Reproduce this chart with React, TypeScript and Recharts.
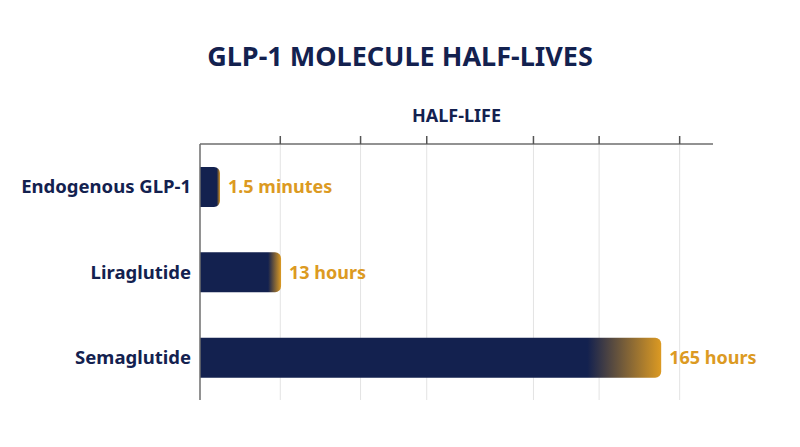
import React from "react";
import { BarChart, Bar, XAxis, YAxis, CartesianGrid, LabelList } from "recharts";

const categories = ["Endogenous GLP-1", "Liraglutide", "Semaglutide"];
// bar lengths as drawn (relative visual scale 0–100)
const barLengths = [3.9, 15.8, 89.9];
const valueLabels = ["1.5 minutes", "13 hours", "165 hours"];
const gridTicks = [15.65, 31.3, 44.2, 65, 77.8, 93.5];
const DOMAIN: [number, number] = [0, 100];

const data = categories.map((name, i) => ({
  name,
  value: barLengths[i],
  label: valueLabels[i],
}));

const NAVY = "#13214f";
const GOLD = "#dc9a22";
const FONT = "'Noto Sans', sans-serif";

const EmptyTick = () => <g />;

const gridGen = (props: any) => {
  const xAxis = props && props.xAxis;
  const s = xAxis && xAxis.scale;
  return gridTicks.map((t) => {
    if (typeof s === "function") return s(t);
    if (s && typeof s.map === "function") return s.map(t);
    const off = props.offset;
    return off.left + ((t - DOMAIN[0]) / (DOMAIN[1] - DOMAIN[0])) * off.width;
  });
};

export default function App() {
  return (
    <div style={{ position: "absolute", left: 0, top: 0, width: 800, height: 447, background: "#fff" }}>
      <div
        style={{
          position: "absolute",
          left: 0,
          top: 36,
          width: 800,
          textAlign: "center",
          fontFamily: FONT,
          fontWeight: 700,
          fontSize: 27,
          color: NAVY,
          lineHeight: "40px",
        }}
      >
        GLP-1 MOLECULE HALF-LIVES
      </div>
      <BarChart
        width={800}
        height={447}
        data={data}
        layout="vertical"
        margin={{ top: 114, right: 87, bottom: 47, left: 0 }}
        barCategoryGap={0}
      >
        <defs>
          <linearGradient id="barGrad" x1="0" y1="0" x2="1" y2="0">
            <stop offset="0" stopColor={NAVY} />
            <stop offset="0.84" stopColor={NAVY} />
            <stop offset="1" stopColor={GOLD} />
          </linearGradient>
        </defs>
        <CartesianGrid
          horizontal={false}
          stroke="#e3e3e3"
          strokeWidth={1}
          verticalCoordinatesGenerator={gridGen}
        />
        <XAxis
          type="number"
          orientation="top"
          domain={DOMAIN}
          ticks={gridTicks}
          interval={0}
          height={30}
          tick={EmptyTick}
          tickSize={8}
          axisLine={{ stroke: "#6e6e6e", strokeWidth: 1.5 }}
          tickLine={{ stroke: "#555", strokeWidth: 1.5 }}
          label={(props: any) => {
            const vb = props.viewBox;
            return (
              <text
                x={vb.x + vb.width / 2}
                y={vb.y + 8}
                textAnchor="middle"
                fontFamily={FONT}
                fontWeight={700}
                fontSize={18}
                fill={NAVY}
              >
                HALF-LIFE
              </text>
            );
          }}
        />
        <YAxis
          type="category"
          dataKey="name"
          width={200}
          tickLine={false}
          tickSize={0}
          tickMargin={9}
          axisLine={{ stroke: "#6e6e6e", strokeWidth: 1.5 }}
          tick={{ fill: NAVY, fontFamily: FONT, fontWeight: 700, fontSize: 18.5 }}
        />
        <Bar
          dataKey="value"
          barSize={40}
          fill="url(#barGrad)"
          radius={[0, 6, 6, 0]}
          isAnimationActive={false}
        >
          <LabelList
            dataKey="label"
            position="right"
            offset={8}
            fill={GOLD}
            fontFamily={FONT}
            fontWeight={700}
            fontSize={18}
          />
        </Bar>
      </BarChart>
    </div>
  );
}
